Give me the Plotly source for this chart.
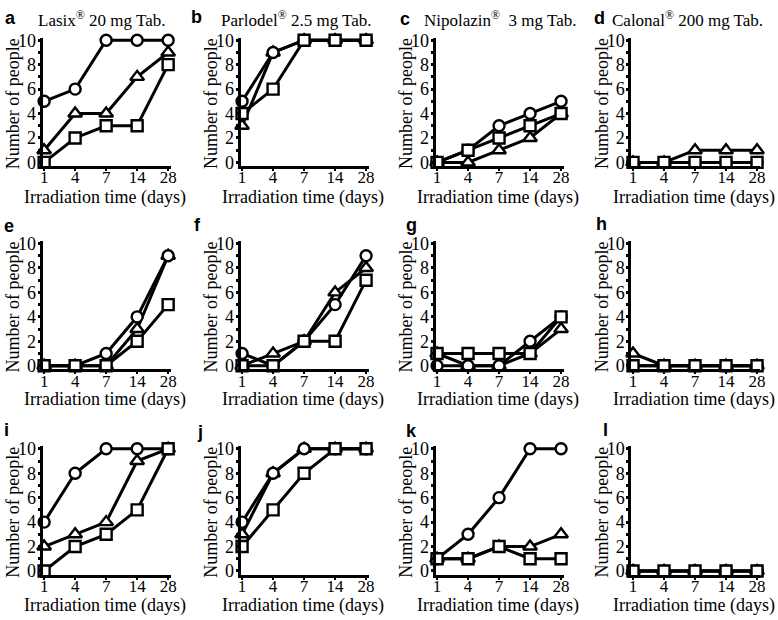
import plotly.graph_objects as go

W, H = 778, 620

days = ['1', '4', '7', '14', '28']

# panel values: circle, triangle, square (number of people)
a_circle = [5, 6, 10, 10, 10]
a_triangle = [1, 4, 4, 7, 9]
a_square = [0, 2, 3, 3, 8]

b_circle = [5, 9, 10, 10, 10]
b_triangle = [3, 9, 10, 10, 10]
b_square = [4, 6, 10, 10, 10]

c_circle = [0, 1, 3, 4, 5]
c_triangle = [0, 0, 1, 2, 4]
c_square = [0, 1, 2, 3, 4]

d_circle = [0, 0, 0, 0, 0]
d_triangle = [0, 0, 1, 1, 1]
d_square = [0, 0, 0, 0, 0]

e_circle = [0, 0, 1, 4, 9]
e_triangle = [0, 0, 0, 3, 9]
e_square = [0, 0, 0, 2, 5]

f_circle = [1, 0, 2, 5, 9]
f_triangle = [0, 1, 2, 6, 8]
f_square = [0, 0, 2, 2, 7]

g_circle = [0, 0, 0, 2, 4]
g_triangle = [1, 0, 0, 1, 3]
g_square = [1, 1, 1, 1, 4]

h_circle = [0, 0, 0, 0, 0]
h_triangle = [1, 0, 0, 0, 0]
h_square = [0, 0, 0, 0, 0]

i_circle = [4, 8, 10, 10, 10]
i_triangle = [2, 3, 4, 9, 10]
i_square = [0, 2, 3, 5, 10]

j_circle = [4, 8, 10, 10, 10]
j_triangle = [3, 8, 10, 10, 10]
j_square = [2, 5, 8, 10, 10]

k_circle = [1, 3, 6, 10, 10]
k_triangle = [1, 1, 2, 2, 3]
k_square = [1, 1, 2, 1, 1]

l_circle = [0, 0, 0, 0, 0]
l_triangle = [0, 0, 0, 0, 0]
l_square = [0, 0, 0, 0, 0]

panel_letters = ['a', 'b', 'c', 'd', 'e', 'f', 'g', 'h', 'i', 'j', 'k', 'l']
drug_titles = ['Lasix<sup>®</sup> 20 mg Tab.', 'Parlodel<sup>®</sup> 2.5 mg Tab.',
               'Nipolazin<sup>®</sup>\u00a0 3 mg Tab.', 'Calonal<sup>®</sup> 200 mg Tab.']
y_ticks = [0, 2, 4, 6, 8, 10]

panels = [
    (a_circle, a_triangle, a_square), (b_circle, b_triangle, b_square),
    (c_circle, c_triangle, c_square), (d_circle, d_triangle, d_square),
    (e_circle, e_triangle, e_square), (f_circle, f_triangle, f_square),
    (g_circle, g_triangle, g_square), (h_circle, h_triangle, h_square),
    (i_circle, i_triangle, i_square), (j_circle, j_triangle, j_square),
    (k_circle, k_triangle, k_square), (l_circle, l_triangle, l_square),
]

SERIF = 'Liberation Serif, Times New Roman, serif'
SANS = 'Liberation Sans, Arial, sans-serif'

# layout in pixels
col_left = [40, 240, 437, 635]
col_w = 130
row_top = [31.5, 239.5, 449.5]
row_h = 131.25
xtitle_y = [195, 402, 612]
letter_pos = [(8, 11), (196, 10), (406, 12), (603, 11),
              (6, 224), (197, 223), (413, 223), (605, 222),
              (4, 433), (199, 435), (413, 434), (609, 433)]
title_x = [33, 218, 423, 613]


def px(x):
    return x / W


def py(y):
    return 1 - y / H


fig = go.Figure()
annotations = []

symbols = ['triangle-up', 'circle', 'square']
for idx, (circ, tri, sq) in enumerate(panels):
    r, c = divmod(idx, 4)
    n = idx + 1
    xa = 'x' if n == 1 else f'x{n}'
    ya = 'y' if n == 1 else f'y{n}'
    for vals, sym in zip([tri, circ, sq], symbols):
        fig.add_trace(go.Scatter(
            x=days, y=vals, xaxis=xa, yaxis=ya, mode='lines+markers',
            line=dict(color='black', width=3),
            marker=dict(symbol=sym, size=11 if sym != 'triangle-up' else 12,
                        color='white', line=dict(color='black', width=2.4)),
            cliponaxis=False, showlegend=False, hoverinfo='x+y'))

    x0, x1 = col_left[c], col_left[c] + col_w
    y0, y1 = row_top[r], row_top[r] + row_h
    xkey = 'xaxis' if n == 1 else f'xaxis{n}'
    ykey = 'yaxis' if n == 1 else f'yaxis{n}'
    fig.layout[xkey] = dict(
        domain=[px(x0), px(x1)], anchor=ya, type='category',
        categoryorder='array', categoryarray=days,
        range=[-0.05, 4.1], showgrid=False, zeroline=False,
        showline=True, linecolor='black', linewidth=3,
        ticks='outside', ticklen=2, tickwidth=2, tickcolor='black',
        ticklabelstandoff=-8,
        tickfont=dict(family=SERIF, size=17, color='black'), fixedrange=True)
    fig.layout[ykey] = dict(
        domain=[py(y1), py(y0)], anchor=xa,
        range=[-0.3, 10.2], showgrid=False, zeroline=False,
        showline=True, linecolor='black', linewidth=3,
        tickvals=y_ticks, ticks='outside', ticklen=2, tickwidth=2.5,
        tickcolor='black', ticklabelstandoff=-2,
        minor=dict(dtick=1, tick0=0, ticks='outside', ticklen=2, tickwidth=2.5,
                   tickcolor='black'),
        tickfont=dict(family=SERIF, size=18, color='black'), fixedrange=True)

    # axis titles
    annotations.append(dict(
        text='Irradiation time (days)', x=px((x0 + x1) / 2 - 2), y=py(xtitle_y[r]),
        xref='paper', yref='paper', showarrow=False, xanchor='center', yanchor='middle',
        font=dict(family=SERIF, size=18, color='black')))
    annotations.append(dict(
        text='Number of people', x=px(x0 - 30), y=py(y0 + 67),
        xref='paper', yref='paper', showarrow=False, textangle=-90,
        xanchor='center', yanchor='middle',
        font=dict(family=SERIF, size=18, color='black')))

    lx, ly = letter_pos[idx]
    annotations.append(dict(
        text=f'<b>{panel_letters[idx]}</b>', x=px(lx), y=py(ly),
        xref='paper', yref='paper', showarrow=False, xanchor='center', yanchor='middle',
        font=dict(family=SANS, size=18, color='black')))

for c, t in enumerate(drug_titles):
    annotations.append(dict(
        text=t, x=px(title_x[c]), y=py(12), xref='paper', yref='paper',
        showarrow=False, xanchor='left', yanchor='middle',
        font=dict(family=SERIF, size=17, color='black')))

fig.update_layout(
    width=W, height=H, margin=dict(l=0, r=0, t=0, b=0),
    plot_bgcolor='white', paper_bgcolor='white',
    annotations=annotations, showlegend=False)

# drop the browser's default body margin so the figure fills the window
fig.write_html("out.html", config={'displayModeBar': False},
               post_script="document.body.style.margin='0';"
                           "document.body.style.overflow='hidden';")
